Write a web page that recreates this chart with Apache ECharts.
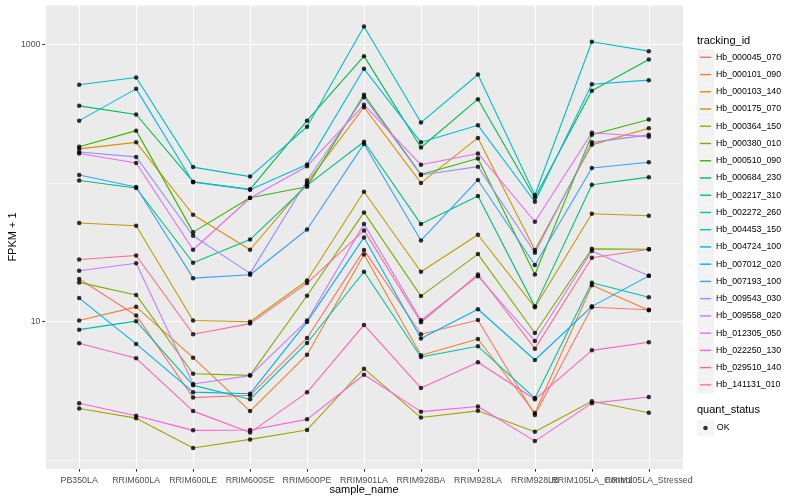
<!DOCTYPE html>
<html>
<head>
<meta charset="utf-8">
<script src="https://cdn.jsdelivr.net/npm/echarts@6/dist/echarts.min.js"></script>
<style>
html,body{margin:0;padding:0;background:#ffffff;}
#chart{width:800px;height:500px;}
</style>
</head>
<body>
<div id="chart"></div>
<script>
// ---- data ----
const categories = ["PB350LA","RRIM600LA","RRIM600LE","RRIM600SE","RRIM600PE","RRIM901LA","RRIM928BA","RRIM928LA","RRIM928LB","RRIM105LA_Control","RRIM105LA_Stressed"];
const trackingIds = ["Hb_000045_070","Hb_000101_090","Hb_000103_140","Hb_000175_070","Hb_000364_150","Hb_000380_010","Hb_000510_090","Hb_000684_230","Hb_002217_310","Hb_002272_260","Hb_004453_150","Hb_004724_100","Hb_007012_020","Hb_007193_100","Hb_009543_030","Hb_009558_020","Hb_012305_050","Hb_022250_130","Hb_029510_140","Hb_141131_010"];

const Hb_000045_070 = [20.3, 11.1, 2.84, 2.95, 7.64, 32.8, 8.12, 10.3, 2.13, 12.7, 12.2];
const Hb_000101_090 = [10.2, 12.8, 5.51, 2.27, 5.79, 30.5, 5.73, 7.51, 2.20, 18.3, 12.1];
const Hb_000103_140 = [176, 196, 59.0, 33.0, 100, 351, 100, 211, 32.8, 188, 248];
const Hb_000175_070 = [51.4, 49.1, 10.2, 10.0, 19.8, 86.4, 22.9, 42.3, 12.7, 60.0, 58.0];
const Hb_000364_150 = [2.37, 2.02, 1.23, 1.42, 1.66, 4.59, 2.04, 2.28, 1.61, 2.67, 2.21];
const Hb_000380_010 = [19.2, 15.6, 4.22, 4.11, 15.4, 61.3, 15.3, 30.7, 8.30, 33.5, 33.3];
const Hb_000510_090 = [182, 238, 44.2, 78.2, 93.9, 431, 115, 150, 21.9, 222, 286];
const Hb_000684_230 = [359, 311, 102, 89.9, 281, 819, 180, 401, 78.2, 461, 775];
const Hb_002217_310 = [104, 91.9, 26.6, 39.1, 96.0, 198, 50.5, 80.4, 12.9, 97.1, 110];
const Hb_002272_260 = [8.77, 10.1, 3.48, 2.76, 7.03, 22.9, 5.57, 6.65, 2.82, 19.1, 15.0];
const Hb_004453_150 = [509, 575, 130, 111, 254, 1341, 272, 604, 81.8, 1040, 890];
const Hb_004724_100 = [281, 476, 101, 89.4, 136, 664, 196, 260, 73.2, 514, 550];
const Hb_007012_020 = [14.8, 6.92, 3.11, 3.03, 9.97, 40.5, 7.56, 12.3, 5.30, 12.9, 21.4];
const Hb_007193_100 = [114, 93.4, 20.6, 21.8, 46.2, 191, 38.5, 105, 25.6, 128, 141];
const Hb_009543_030 = [167, 154, 41.6, 22.3, 104, 414, 114, 131, 31.4, 196, 222];
const Hb_009558_020 = [23.3, 26.4, 3.56, 4.09, 10.2, 50.5, 10.25, 21.3, 7.27, 32.3, 21.4];
const Hb_012305_050 = [163, 139, 33.0, 77.9, 132, 365, 135, 163, 52.5, 230, 215];
const Hb_022250_130 = [2.59, 2.10, 1.65, 1.66, 1.98, 4.15, 2.25, 2.45, 1.38, 2.59, 2.87];
const Hb_029510_140 = [6.99, 5.45, 2.27, 1.59, 3.10, 9.48, 3.33, 5.10, 2.76, 6.22, 7.11];
const Hb_141131_010 = [28.1, 30.0, 8.12, 9.69, 19.0, 45.5, 9.91, 21.9, 6.40, 28.9, 33.3];

const yMajorBreaks = [10, 1000];
const yTickLabels = ["10", "1000"];
const quantStatus = ["OK"];

// ---- styles ----
const palette = ["#F8766D","#EA8331","#D89000","#C09B00","#A3A500","#7CAE00","#39B600","#00BB4E","#00BF7D","#00C1A3","#00BFC4","#00BAE0","#00B0F6","#35A2FF","#9590FF","#C77CFF","#E76BF3","#FA62DB","#FF62BC","#FF6C91"];
const FONT = "Liberation Sans, Arial, Helvetica, sans-serif";
// legend key glyphs: invisible move-to points keep a full 17px-high key box
const LINE_KEY = 'path://M0 0M11 17M0 7.8H11V9.2H0Z';
const DOT_KEY = 'path://M0 0M4.6 17M0 8.5A2.3 2.3 0 1 0 4.6 8.5A2.3 2.3 0 1 0 0 8.5Z';

const seriesValues = [Hb_000045_070,Hb_000101_090,Hb_000103_140,Hb_000175_070,Hb_000364_150,Hb_000380_010,Hb_000510_090,Hb_000684_230,Hb_002217_310,Hb_002272_260,Hb_004453_150,Hb_004724_100,Hb_007012_020,Hb_007193_100,Hb_009543_030,Hb_009558_020,Hb_012305_050,Hb_022250_130,Hb_029510_140,Hb_141131_010];
const X_MIN = -0.6, X_MAX = categories.length - 1 + 0.6;
const xIdx = categories.map((c, i) => i);
// blank placeholder labels/ticks at both panel edges, so the real
// (overlapping, as in the original) end labels are never dropped
const xMarks = [X_MIN].concat(xIdx, [X_MAX]);

const lineSeries = trackingIds.map((id, k) => ({
  name: id,
  type: 'line',
  data: seriesValues[k].map((v, i) => [i, v]),
  showSymbol: false,
  symbol: 'none',
  lineStyle: { color: palette[k], width: 1.1 },
  itemStyle: { color: palette[k] },
  z: 2,
  silent: true
}));

const pointData = [];
seriesValues.forEach(arr => arr.forEach((v, i) => pointData.push([i, v])));

const chart = echarts.init(document.getElementById('chart'), null, { renderer: 'canvas' });
chart.setOption({
  animation: false,
  backgroundColor: '#ffffff',
  textStyle: { fontFamily: FONT },
  title: [
    { text: 'tracking_id', left: 697, top: 35.5, padding: 0,
      textStyle: { fontSize: 11, fontWeight: 'normal', color: '#000', fontFamily: FONT } },
    { text: 'quant_status', left: 697, top: 404.5, padding: 0,
      textStyle: { fontSize: 11, fontWeight: 'normal', color: '#000', fontFamily: FONT } }
  ],
  legend: [
    { id: 'keyBg', orient: 'vertical', left: 697, top: 48.8, padding: 0,
      itemWidth: 17, itemHeight: 17, itemGap: 0.24, icon: 'rect', selectedMode: false,
      data: trackingIds.map(n => ({ name: n, itemStyle: { color: '#F2F2F2', borderWidth: 0 } })),
      formatter: () => '', textStyle: { fontSize: 1, color: 'rgba(0,0,0,0)' } },
    { id: 'keyFg', orient: 'vertical', left: 700, top: 48.8, padding: 0,
      itemWidth: 11, itemHeight: 17, itemGap: 0.24, icon: LINE_KEY, selectedMode: false,
      data: trackingIds.map((n, k) => ({ name: n, itemStyle: { color: palette[k], borderWidth: 0 } })),
      textStyle: { fontSize: 8.8, color: '#000', fontFamily: FONT } },
    { id: 'okBg', orient: 'vertical', left: 697, top: 419.5, padding: 0,
      itemWidth: 17, itemHeight: 17, icon: 'rect', selectedMode: false,
      data: quantStatus.map(n => ({ name: n, itemStyle: { color: '#F2F2F2', borderWidth: 0 } })),
      formatter: () => '', textStyle: { fontSize: 1, color: 'rgba(0,0,0,0)' } },
    { id: 'okFg', orient: 'vertical', left: 703.2, top: 419.5, padding: 0,
      itemWidth: 4.6, itemHeight: 17, icon: DOT_KEY, selectedMode: false,
      data: quantStatus.map(n => ({ name: n, itemStyle: { color: '#000', borderWidth: 0 } })),
      textStyle: { fontSize: 8.8, color: '#000', fontFamily: FONT, padding: [0, 0, 0, 4] } }
  ],
  grid: { left: 45, right: 117, top: 5, bottom: 31, show: true, backgroundColor: '#EBEBEB', borderWidth: 0, containLabel: false, outerBoundsMode: 'none' },
  xAxis: {
    type: 'value', min: X_MIN, max: X_MAX, position: 'bottom',
    axisLine: { show: false },
    axisTick: { show: true, length: 2.75, customValues: xMarks, lineStyle: { color: '#333333', width: 1.07 } },
    axisLabel: {
      customValues: xMarks,
      formatter: v => { const i = Math.round(v); return (Math.abs(v - i) < 1e-6 && categories[i] !== undefined) ? categories[i] : ''; },
      showMinLabel: false, showMaxLabel: false, hideOverlap: false,
      color: '#4D4D4D', fontSize: 8.8, margin: 7.5, fontFamily: FONT
    },
    splitLine: { show: true, lineStyle: { color: '#ffffff', width: 1.07 } },
    name: 'sample_name', nameLocation: 'middle', nameGap: 15, nameMoveOverlap: false,
    nameTextStyle: { fontSize: 11, color: '#000', fontFamily: FONT }
  },
  yAxis: [
    { type: 'log', logBase: 10, min: 0.869, max: 1913, position: 'left',
      axisLine: { show: false }, axisTick: { show: false }, axisLabel: { show: false },
      splitLine: { show: true, lineStyle: { color: '#ffffff', width: 0.53 } },
      name: 'FPKM + 1', nameLocation: 'middle', nameGap: 27, nameMoveOverlap: false,
      nameTextStyle: { fontSize: 11, color: '#000', fontFamily: FONT } },
    { type: 'log', logBase: 10, min: 0.869, max: 1913, position: 'left',
      axisLine: { show: false },
      axisTick: { show: true, length: 2.75, customValues: yMajorBreaks, lineStyle: { color: '#333333', width: 1.07 } },
      axisLabel: { customValues: yMajorBreaks, formatter: v => yTickLabels[yMajorBreaks.indexOf(Math.round(v))] || '', color: '#4D4D4D', fontSize: 8.8, margin: 4.5, fontFamily: FONT },
      splitLine: { show: true, lineStyle: { color: '#ffffff', width: 1.07 } } }
  ],
  series: lineSeries.concat([{
    name: 'OK', type: 'scatter', data: pointData, symbol: 'circle', symbolSize: 4.5,
    itemStyle: { color: '#000000' }, z: 3, silent: true
  }])
});
</script>
</body>
</html>
